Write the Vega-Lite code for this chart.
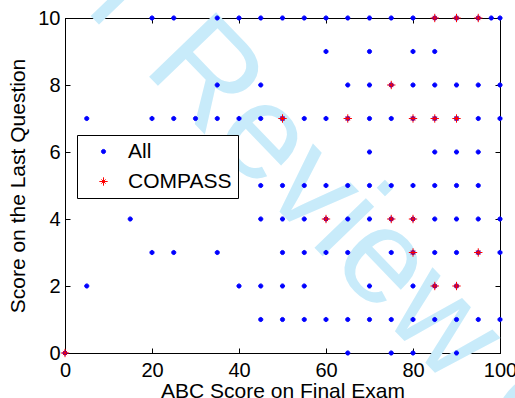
{
  "$schema": "https://vega.github.io/schema/vega-lite/v6.json",
  "autosize": {"type": "none"},
  "width": 435,
  "height": 335,
  "padding": {"left": 65, "top": 18, "right": 15, "bottom": 45},
  "background": "white",
  "data": {"values": [
    {"exam": 20, "q": 10, "group": "All"}, {"exam": 25, "q": 10, "group": "All"}, {"exam": 35, "q": 10, "group": "All"}, {"exam": 40, "q": 10, "group": "All"}, {"exam": 45, "q": 10, "group": "All"}, {"exam": 50, "q": 10, "group": "All"}, {"exam": 55, "q": 10, "group": "All"}, {"exam": 60, "q": 10, "group": "All"}, {"exam": 65, "q": 10, "group": "All"}, {"exam": 70, "q": 10, "group": "All"}, {"exam": 75, "q": 10, "group": "All"}, {"exam": 80, "q": 10, "group": "All"}, {"exam": 85, "q": 10, "group": "All"}, {"exam": 90, "q": 10, "group": "All"}, {"exam": 95, "q": 10, "group": "All"}, {"exam": 98, "q": 10, "group": "All"}, {"exam": 100, "q": 10, "group": "All"},
    {"exam": 60, "q": 9, "group": "All"}, {"exam": 70, "q": 9, "group": "All"}, {"exam": 80, "q": 9, "group": "All"}, {"exam": 85, "q": 9, "group": "All"},
    {"exam": 35, "q": 8, "group": "All"}, {"exam": 45, "q": 8, "group": "All"}, {"exam": 65, "q": 8, "group": "All"}, {"exam": 70, "q": 8, "group": "All"}, {"exam": 75, "q": 8, "group": "All"}, {"exam": 80, "q": 8, "group": "All"}, {"exam": 85, "q": 8, "group": "All"}, {"exam": 90, "q": 8, "group": "All"}, {"exam": 95, "q": 8, "group": "All"}, {"exam": 100, "q": 8, "group": "All"},
    {"exam": 5, "q": 7, "group": "All"}, {"exam": 20, "q": 7, "group": "All"}, {"exam": 25, "q": 7, "group": "All"}, {"exam": 30, "q": 7, "group": "All"}, {"exam": 35, "q": 7, "group": "All"}, {"exam": 40, "q": 7, "group": "All"}, {"exam": 45, "q": 7, "group": "All"}, {"exam": 50, "q": 7, "group": "All"}, {"exam": 55, "q": 7, "group": "All"}, {"exam": 60, "q": 7, "group": "All"}, {"exam": 65, "q": 7, "group": "All"}, {"exam": 70, "q": 7, "group": "All"}, {"exam": 75, "q": 7, "group": "All"}, {"exam": 80, "q": 7, "group": "All"}, {"exam": 85, "q": 7, "group": "All"}, {"exam": 90, "q": 7, "group": "All"}, {"exam": 95, "q": 7, "group": "All"}, {"exam": 100, "q": 7, "group": "All"},
    {"exam": 70, "q": 6, "group": "All"}, {"exam": 85, "q": 6, "group": "All"}, {"exam": 90, "q": 6, "group": "All"}, {"exam": 95, "q": 6, "group": "All"},
    {"exam": 45, "q": 5, "group": "All"}, {"exam": 50, "q": 5, "group": "All"}, {"exam": 55, "q": 5, "group": "All"}, {"exam": 60, "q": 5, "group": "All"}, {"exam": 65, "q": 5, "group": "All"}, {"exam": 70, "q": 5, "group": "All"}, {"exam": 75, "q": 5, "group": "All"}, {"exam": 80, "q": 5, "group": "All"}, {"exam": 85, "q": 5, "group": "All"}, {"exam": 90, "q": 5, "group": "All"}, {"exam": 95, "q": 5, "group": "All"},
    {"exam": 15, "q": 4, "group": "All"}, {"exam": 45, "q": 4, "group": "All"}, {"exam": 50, "q": 4, "group": "All"}, {"exam": 55, "q": 4, "group": "All"}, {"exam": 60, "q": 4, "group": "All"}, {"exam": 65, "q": 4, "group": "All"}, {"exam": 70, "q": 4, "group": "All"}, {"exam": 75, "q": 4, "group": "All"}, {"exam": 80, "q": 4, "group": "All"}, {"exam": 85, "q": 4, "group": "All"}, {"exam": 90, "q": 4, "group": "All"}, {"exam": 95, "q": 4, "group": "All"}, {"exam": 100, "q": 4, "group": "All"},
    {"exam": 20, "q": 3, "group": "All"}, {"exam": 25, "q": 3, "group": "All"}, {"exam": 35, "q": 3, "group": "All"}, {"exam": 50, "q": 3, "group": "All"}, {"exam": 55, "q": 3, "group": "All"}, {"exam": 60, "q": 3, "group": "All"}, {"exam": 65, "q": 3, "group": "All"}, {"exam": 75, "q": 3, "group": "All"}, {"exam": 80, "q": 3, "group": "All"}, {"exam": 85, "q": 3, "group": "All"}, {"exam": 90, "q": 3, "group": "All"}, {"exam": 95, "q": 3, "group": "All"}, {"exam": 100, "q": 3, "group": "All"},
    {"exam": 5, "q": 2, "group": "All"}, {"exam": 40, "q": 2, "group": "All"}, {"exam": 45, "q": 2, "group": "All"}, {"exam": 50, "q": 2, "group": "All"}, {"exam": 55, "q": 2, "group": "All"}, {"exam": 70, "q": 2, "group": "All"}, {"exam": 80, "q": 2, "group": "All"}, {"exam": 85, "q": 2, "group": "All"}, {"exam": 90, "q": 2, "group": "All"},
    {"exam": 45, "q": 1, "group": "All"}, {"exam": 50, "q": 1, "group": "All"}, {"exam": 55, "q": 1, "group": "All"}, {"exam": 60, "q": 1, "group": "All"}, {"exam": 65, "q": 1, "group": "All"}, {"exam": 70, "q": 1, "group": "All"}, {"exam": 75, "q": 1, "group": "All"}, {"exam": 80, "q": 1, "group": "All"}, {"exam": 85, "q": 1, "group": "All"}, {"exam": 90, "q": 1, "group": "All"}, {"exam": 95, "q": 1, "group": "All"}, {"exam": 100, "q": 1, "group": "All"},
    {"exam": 0, "q": 0, "group": "All"}, {"exam": 65, "q": 0, "group": "All"}, {"exam": 75, "q": 0, "group": "All"}, {"exam": 80, "q": 0, "group": "All"}, {"exam": 90, "q": 0, "group": "All"},
    {"exam": 85, "q": 10, "group": "COMPASS"}, {"exam": 90, "q": 10, "group": "COMPASS"}, {"exam": 95, "q": 10, "group": "COMPASS"},
    {"exam": 75, "q": 8, "group": "COMPASS"},
    {"exam": 50, "q": 7, "group": "COMPASS"}, {"exam": 65, "q": 7, "group": "COMPASS"}, {"exam": 80, "q": 7, "group": "COMPASS"}, {"exam": 85, "q": 7, "group": "COMPASS"}, {"exam": 90, "q": 7, "group": "COMPASS"},
    {"exam": 60, "q": 4, "group": "COMPASS"}, {"exam": 75, "q": 4, "group": "COMPASS"}, {"exam": 80, "q": 4, "group": "COMPASS"},
    {"exam": 80, "q": 3, "group": "COMPASS"}, {"exam": 95, "q": 3, "group": "COMPASS"},
    {"exam": 85, "q": 2, "group": "COMPASS"}, {"exam": 90, "q": 2, "group": "COMPASS"},
    {"exam": 0, "q": 0, "group": "COMPASS"}
  ]},
  "layer": [
    {
      "data": {"values": [{"label": "For Review Only"}]},
      "mark": {"type": "text", "angle": 46, "font": "Liberation Sans", "fontWeight": "normal", "fontSize": 135, "color": "#c8ebfa", "align": "center", "baseline": "middle"},
      "encoding": {
        "x": {"datum": 65.7, "type": "quantitative", "axis": null},
        "y": {"datum": 3.78, "type": "quantitative", "axis": null},
        "text": {"field": "label"}
      }
    },
    {
      "transform": [{"filter": "datum.group === 'All'"}],
      "mark": {"type": "point", "size": 70, "strokeWidth": 1, "opacity": 1},
      "encoding": {
        "x": {"field": "exam", "type": "quantitative", "scale": {"domain": [0, 100], "nice": false, "zero": false},
              "axis": {"orient": "bottom", "title": "ABC Score on Final Exam", "values": [0, 20, 40, 60, 80, 100], "labelFlush": false, "labelOverlap": false, "labelPadding": 12, "titlePadding": 0}},
        "y": {"field": "q", "type": "quantitative", "scale": {"domain": [0, 10], "nice": false, "zero": false},
              "axis": {"orient": "left", "title": "Score on the Last Question", "values": [0, 2, 4, 6, 8, 10], "labelOverlap": false, "labelPadding": 10, "titlePadding": 9}},
        "fill": {"field": "group", "type": "nominal", "scale": {"domain": ["All", "COMPASS"], "range": ["#0000ff", "#ff0000"]}, "legend": {"title": null, "orient": "none", "legendX": 12, "legendY": 117}},
        "stroke": {"field": "group", "type": "nominal", "scale": {"domain": ["All", "COMPASS"], "range": ["#0000ff", "#ff0000"]}, "legend": {"title": null, "orient": "none", "legendX": 12, "legendY": 117}},
        "shape": {"field": "group", "type": "nominal", "scale": {"domain": ["All", "COMPASS"], "range": ["M-0.5,0A0.5,0.5,0,1,1,0.5,0A0.5,0.5,0,1,1,-0.5,0Z", "M-1,0L1,0M0,-1L0,1M-0.5,-0.5L0.5,0.5M-0.5,0.5L0.5,-0.5"]}, "legend": {"title": null, "orient": "none", "legendX": 12, "legendY": 117}}
      }
    },
    {
      "transform": [{"filter": "datum.group === 'COMPASS'"}],
      "mark": {"type": "point", "size": 70, "strokeWidth": 1, "opacity": 1},
      "encoding": {
        "x": {"field": "exam", "type": "quantitative",
              "axis": {"orient": "top", "title": null, "labels": false, "values": [0, 20, 40, 60, 80, 100]}},
        "y": {"field": "q", "type": "quantitative",
              "axis": {"orient": "right", "title": null, "labels": false, "values": [0, 2, 4, 6, 8, 10]}},
        "fill": {"field": "group", "type": "nominal"},
        "stroke": {"field": "group", "type": "nominal"},
        "shape": {"field": "group", "type": "nominal"}
      }
    }
  ],
  "resolve": {"axis": {"x": "independent", "y": "independent"}},
  "config": {
    "view": {"stroke": "black", "strokeWidth": 1},
    "axis": {
      "zindex": 1,
      "grid": false,
      "domainColor": "black",
      "domainWidth": 1,
      "tickColor": "black",
      "tickWidth": 1,
      "tickSize": -5,
      "labelColor": "black",
      "titleColor": "black",
      "labelFont": "Liberation Sans",
      "titleFont": "Liberation Sans",
      "labelFontSize": 20,
      "titleFontSize": 21,
      "titleFontWeight": "normal"
    },
    "legend": {
      "strokeColor": "black",
      "fillColor": "white",
      "cornerRadius": 0,
      "padding": 6,
      "rowPadding": 8,
      "symbolOffset": 10,
      "labelOffset": 14,
      "symbolSize": 70,
      "symbolStrokeWidth": 1,
      "labelFont": "Liberation Sans",
      "labelFontSize": 21,
      "labelColor": "black"
    }
  }
}
